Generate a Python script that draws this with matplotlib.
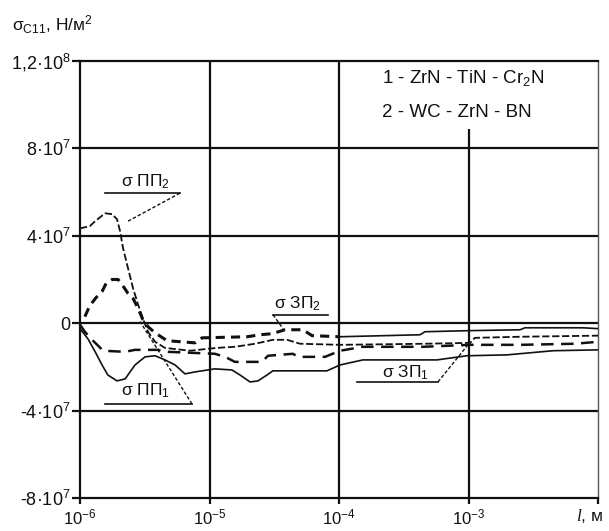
import numpy as np
from matplotlib import pyplot as plt
from matplotlib.ticker import NullLocator

plt.rcParams['font.family'] = 'Liberation Sans'
plt.rcParams['mathtext.fontset'] = 'custom'
plt.rcParams['mathtext.rm'] = 'Liberation Sans'
plt.rcParams['mathtext.it'] = 'Liberation Serif:italic'
plt.rcParams['mathtext.default'] = 'rm'

# stress curves, l in metres, sigma in units of 1e7 N/m^2
pp2_l = [1.00e-6, 1.19e-6, 1.31e-6, 1.56e-6, 1.77e-6, 1.93e-6, 2.04e-6, 2.15e-6, 2.35e-6, 2.57e-6,
         2.81e-6, 3.06e-6, 3.35e-6, 3.80e-6, 4.53e-6, 7.07e-6, 1.14e-5, 1.57e-5, 2.25e-5, 3.09e-5,
         3.97e-5, 5.0e-5, 1.02e-4, 4.61e-4, 1.03e-3, 1.12e-3, 2.5e-3, 1e-2]
pp2_s = [4.34, 4.44, 4.67, 5.03, 4.99, 4.76, 4.21, 3.43, 2.51, 1.59,
         0.85, 0.21, -0.39, -0.85, -1.13, -1.26, -1.13, -1.08, -0.94, -0.76,
         -0.76, -0.94, -0.99, -0.94, -0.90, -0.67, -0.62, -0.57]

pp1_l = [1.09e-6, 1.19e-6, 1.33e-6, 1.48e-6, 1.59e-6, 1.77e-6, 1.97e-6, 2.11e-6, 2.35e-6, 2.57e-6,
         2.81e-6, 3.06e-6, 3.35e-6, 3.80e-6, 4.70e-6, 7.72e-6, 8.75e-6, 1.95e-5, 2.45e-5, 3.04e-5,
         3.83e-5, 5.27e-5, 6.19e-5, 1.02e-4, 4.22e-4, 4.61e-4, 1.03e-3, 2.5e-3, 2.73e-3, 7.66e-3, 1e-2]
pp1_s = [0.30, 0.80, 1.17, 1.45, 1.82, 2.00, 2.00, 1.77, 1.36, 1.13,
         0.67, 0.16, -0.16, -0.44, -0.80, -0.90, -0.67, -0.62, -0.53, -0.48,
         -0.30, -0.30, -0.57, -0.62, -0.53, -0.39, -0.34, -0.30, -0.21, -0.21, -0.25]

zp1_l = [1.00e-6, 1.09e-6, 1.24e-6, 1.51e-6, 2.23e-6, 2.66e-6, 4.00e-6, 4.78e-6, 1.10e-5, 1.32e-5,
         1.57e-5, 2.54e-5, 2.83e-5, 4.41e-5, 4.82e-5, 7.80e-5, 1.02e-4, 1.53e-4, 4.45e-4, 1.03e-3,
         2.5e-3, 6.64e-3, 1e-2]
zp1_s = [-0.07, -0.39, -0.76, -1.26, -1.31, -1.22, -1.22, -1.31, -1.40, -1.54,
         -1.77, -1.77, -1.49, -1.40, -1.54, -1.54, -1.26, -1.08, -1.08, -0.99,
         -0.99, -0.94, -0.85]

zp2_l = [1.00e-6, 1.15e-6, 1.31e-6, 1.48e-6, 1.64e-6, 1.93e-6, 2.23e-6, 2.66e-6, 3.18e-6, 3.80e-6,
         4.53e-6, 5.42e-6, 6.47e-6, 7.72e-6, 1.10e-5, 1.49e-5, 1.72e-5, 2.06e-5, 2.37e-5, 2.78e-5,
         3.09e-5, 8.08e-5, 1.02e-4, 1.53e-4, 5.71e-4, 9.73e-4, 1.98e-3, 4.50e-3, 1e-2]
zp2_s = [-0.25, -0.71, -1.31, -1.91, -2.37, -2.64, -2.55, -1.91, -1.54, -1.49,
         -1.68, -1.91, -2.32, -2.23, -2.09, -2.14, -2.37, -2.69, -2.64, -2.37,
         -2.18, -2.18, -1.91, -1.68, -1.68, -1.49, -1.45, -1.26, -1.22]

# curve labels: text position, underline start/end, leader target
labels = ['σ ПП$_2$', 'σ ПП$_1$', 'σ ЗП$_2$', 'σ ЗП$_1$']
label_xy = [(3.18e-6, 6.46), (3.18e-6, -3.10), (4.74e-5, 0.90), (3.23e-4, -2.28)]
underline = [(1.56e-6, 5.91e-6, 5.95), (1.56e-6, 7.33e-6, -3.70),
             (3.09e-5, 8.22e-5, 0.39), (1.38e-4, 5.81e-4, -2.69)]
leader_from_right = [True, True, False, True]
leader_to = [(2.35e-6, 4.67), (2.91e-6, 0.07), (3.70e-5, -0.25), (9.9e-4, -0.99)]

y_ticks = [-8, -4, 0, 4, 8, 12]
y_tick_labels = ['-8·10$^{7}$', '-4·10$^{7}$', '0', '4·10$^{7}$', '8·10$^{7}$', '1,2·10$^{8}$']
x_ticks = [1e-6, 1e-5, 1e-4, 1e-3, 1e-2]
x_tick_labels = ['10$^{-6}$', '10$^{-5}$', '10$^{-4}$', '10$^{-3}$', '']

legend_lines = ['1 - ZrN - TiN - Cr$_2$N', '2 - WC - ZrN - BN']

S = 1e7
ink = '#111111'

fig = plt.figure(figsize=(6.09, 5.31), dpi=100)
ax = fig.add_axes([80 / 609, 1 - 498 / 531, 518 / 609, 437 / 531])
ax.set_xscale('log')
ax.set_xlim(1e-6, 1e-2)
ax.set_ylim(-8e7, 1.2e8)

# grid
for yv in [-4, 0, 4, 8]:
    ax.axhline(yv * S, color=ink, lw=1.6, zorder=1)
for xv in [1e-5, 1e-4]:
    ax.axvline(xv, color=ink, lw=1.6, zorder=1)
ax.vlines(1e-3, -8e7, 8.9e7, color=ink, lw=1.6, zorder=1)

# curves
ax.plot(pp2_l, np.array(pp2_s) * S, color=ink, lw=1.3, ls=(0, (4, 1.5)), zorder=3)
l1 = np.array(pp1_l)
s1 = np.array(pp1_s) * S
head = l1 <= 1.02e-4
ax.plot(l1[head], s1[head], color=ink, lw=2.2, ls=(0, (3, 2)), zorder=3)
ax.plot(l1[l1 >= 1.02e-4], s1[l1 >= 1.02e-4], color=ink, lw=1.2, zorder=3)
ax.plot(zp1_l, np.array(zp1_s) * S, color=ink, lw=1.8, ls=(0, (5, 3)), zorder=3)
ax.plot(zp2_l, np.array(zp2_s) * S, color=ink, lw=1.2, zorder=3)

for text, (tx, ty), (u0, u1, uy), right, (lx, ly) in zip(labels, label_xy, underline,
                                                        leader_from_right, leader_to):
    ax.text(tx, ty * S, text, ha='center', va='center', fontsize=12.5, color=ink, zorder=4)
    ax.plot([u0, u1], [uy * S, uy * S], color=ink, lw=1.2, zorder=4)
    start = u1 if right else u0
    ax.plot([start, lx], [uy * S, ly * S], color=ink, lw=1.0, ls=(0, (2.5, 1.5)), zorder=4)

for i, line in enumerate(legend_lines):
    ax.text(0.583, 0.961 - i * 0.079, line, transform=ax.transAxes, ha='left', va='center',
            fontsize=13.5, color=ink)

ax.set_yticks([v * S for v in y_ticks])
ax.set_yticklabels(y_tick_labels, fontsize=13)
ax.set_xticks(x_ticks)
ax.set_xticklabels(x_tick_labels, fontsize=12)
ax.xaxis.set_minor_locator(NullLocator())
ax.tick_params(axis='y', direction='out', length=6, width=1.6, pad=1, colors=ink)
ax.tick_params(axis='x', direction='out', length=4, width=1.6, pad=3, colors=ink)

for side in ['left', 'bottom', 'top']:
    ax.spines[side].set_linewidth(1.6)
    ax.spines[side].set_color(ink)
ax.spines['right'].set_linewidth(1.0)
ax.spines['right'].set_color('#555555')

fig.text(12 / 609, 1 - 25 / 531, 'σ$_{\\mathrm{C11}}$, Н/м$^{2}$', ha='left', va='center',
         fontsize=12.5, color=ink)
fig.text(590 / 609, 1 - 516 / 531, '$\\mathit{l}$, м', ha='center', va='center',
         fontsize=12.5, color=ink)

fig.savefig('out.png', dpi=100)
